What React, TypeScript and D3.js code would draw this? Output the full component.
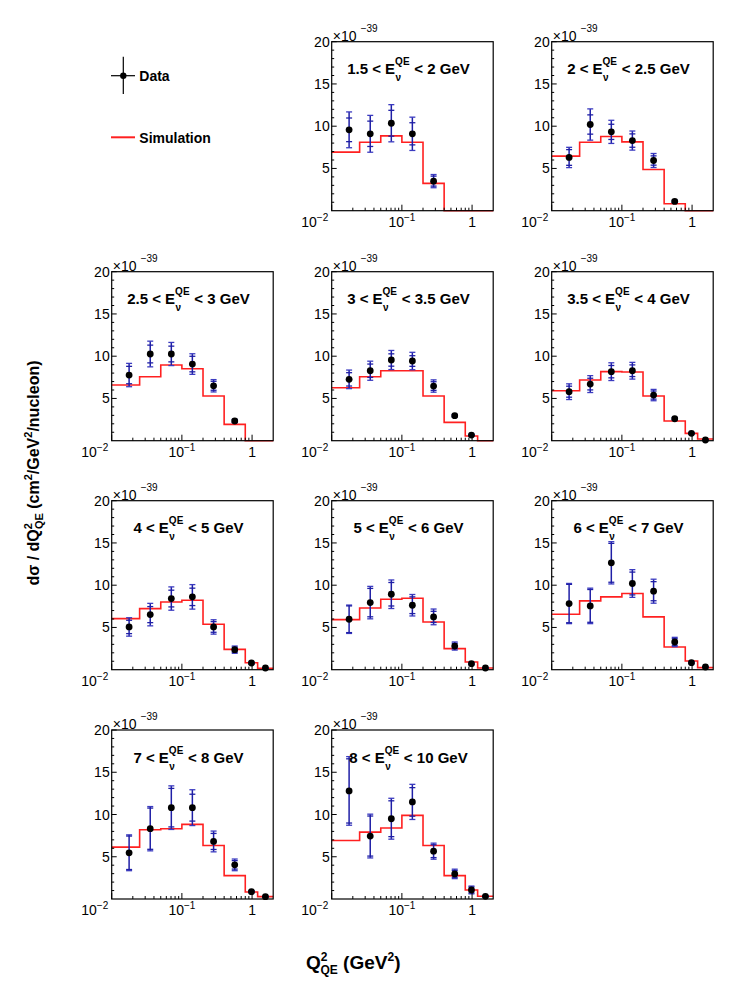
import React from "react";
import * as d3 from "d3";

// ---------- DATA ----------
const binEdges = [0.0, 0.025, 0.05, 0.1, 0.2, 0.4, 0.8, 1.2, 2.0];
const binCenters = [0.0177, 0.0354, 0.0707, 0.141, 0.283, 0.566, 0.98, 1.55];
const eLow = ["1.5", "2", "2.5", "3", "3.5", "4", "5", "6", "7", "8"];
const eHigh = ["2", "2.5", "3", "3.5", "4", "5", "6", "7", "8", "10"];
const yTicks = [5, 10, 15, 20];
const xMajorTicks = [0.01, 0.1, 1];
const xTickExp = ["-2", "-1", ""];

const dataValues: number[][] = [
  [9.57, 9.1, 10.35, 9.1, 3.5],
  [6.3, 10.2, 9.33, 8.3, 5.94, 1.1],
  [7.77, 10.26, 10.26, 9.07, 6.5, 2.33],
  [7.26, 8.28, 9.55, 9.43, 6.47, 2.96, 0.67],
  [5.8, 6.7, 8.17, 8.28, 5.4, 2.6, 0.87, 0.08],
  [5.06, 6.52, 8.42, 8.62, 5.06, 2.37, 0.79, 0.2],
  [5.97, 7.94, 8.93, 7.63, 6.25, 2.8, 0.71, 0.2],
  [7.83, 7.55, 12.65, 10.2, 9.29, 3.28, 0.83, 0.32],
  [5.47, 8.32, 10.81, 10.81, 6.81, 4.04, 0.87, 0.28],
  [12.79, 7.45, 9.5, 11.49, 5.66, 2.97, 1.07, 0.32],
];
const totalErr: number[][] = [
  [2.12, 2.18, 2.2, 1.97, 0.78],
  [1.2, 1.85, 1.37, 1.13, 0.83, 0.15],
  [1.38, 1.52, 1.37, 1.22, 0.73, 0.2],
  [1.1, 1.13, 1.13, 1.03, 0.73, 0.15, 0.1],
  [0.93, 1.0, 1.05, 0.99, 0.67, 0.15, 0.1, 0.05],
  [1.09, 1.33, 1.38, 1.45, 0.85, 0.43, 0.12, 0.06],
  [1.68, 1.92, 1.69, 1.27, 0.93, 0.48, 0.12, 0.06],
  [2.38, 2.1, 2.5, 1.64, 1.42, 0.55, 0.12, 0.06],
  [2.12, 2.62, 2.58, 2.12, 1.23, 0.69, 0.12, 0.06],
  [4.06, 2.59, 2.42, 2.08, 0.95, 0.56, 0.46, 0.08],
];
const statErr: number[][] = [
  [1.4, 1.5, 1.53, 1.31, 0.59],
  [0.93, 1.14, 0.9, 0.79, 0.55, 0.1],
  [1.03, 1.05, 0.93, 0.92, 0.53, 0.12],
  [0.79, 0.79, 0.73, 0.63, 0.51, 0.1, 0.06],
  [0.65, 0.69, 0.73, 0.69, 0.48, 0.1, 0.06, 0.03],
  [0.79, 0.95, 0.99, 1.03, 0.63, 0.3, 0.08, 0.04],
  [1.58, 1.68, 1.39, 0.99, 0.66, 0.32, 0.08, 0.04],
  [2.27, 1.94, 2.3, 1.35, 1.13, 0.39, 0.08, 0.04],
  [1.98, 2.44, 2.28, 1.59, 0.95, 0.5, 0.08, 0.04],
  [3.8, 2.37, 2.12, 1.69, 0.76, 0.4, 0.35, 0.05],
];
const simValues: number[][] = [
  [6.93, 8.1, 8.86, 8.1, 3.23, 0, 0, 0],
  [6.46, 8.1, 8.78, 8.15, 4.88, 0.83, 0, 0],
  [6.59, 7.57, 8.95, 8.52, 5.29, 1.93, 0, 0],
  [6.27, 7.57, 8.28, 8.28, 5.29, 2.17, 0.55, 0],
  [5.92, 7.18, 8.17, 8.13, 5.29, 2.33, 0.87, 0.2],
  [6.05, 7.23, 8.02, 8.22, 5.38, 2.41, 0.83, 0.16],
  [5.93, 7.31, 8.34, 8.46, 5.65, 2.49, 0.91, 0.2],
  [6.56, 8.14, 8.62, 9.01, 6.25, 2.69, 1.03, 0.24],
  [6.14, 8.2, 8.32, 8.83, 6.34, 2.77, 0.83, 0.28],
  [6.93, 7.92, 8.4, 9.9, 6.34, 2.77, 1.07, 0.32],
];

// ---------- LAYOUT ----------
const FONT = "'Liberation Sans', Arial, Helvetica, sans-serif";
const W = 161.5;
const H = 169;
const colLeft = [111.7, 331.7, 551.7];
const rowTop = [41.7, 271.7, 500.7, 730];
const slots: [number, number][] = [
  [0, 1], [0, 2], [1, 0], [1, 1], [1, 2], [2, 0], [2, 1], [2, 2], [3, 0], [3, 1],
];
const XMIN = 0.01;
const XMAX = 2.0;
const BLUE = "#1f1fa6";
const BLUE_OUT = "#3b3bc0";

function Panel({ idx }: { idx: number }) {
  const [r, c] = slots[idx];
  const left = colLeft[c];
  const top = rowTop[r];
  const x = d3.scaleLog().domain([XMIN, XMAX]).range([0, W]);
  const y = d3.scaleLinear().domain([0, 20]).range([H, 0]);

  const pts: [number, number][] = [];
  const sim = simValues[idx];
  sim.forEach((v, i) => {
    const lo = Math.max(binEdges[i], XMIN);
    const hi = Math.min(binEdges[i + 1], XMAX);
    pts.push([lo, v]);
    pts.push([hi, v]);
  });
  const line = d3
    .line<[number, number]>()
    .x((d) => x(d[0]))
    .y((d) => y(d[1]));

  const minorX: number[] = [];
  [0.01, 0.1, 1].forEach((dec) => {
    for (let k = 2; k <= 9; k++) {
      const v = dec * k;
      if (v < XMAX) minorX.push(v);
    }
  });
  const minorY = d3.range(1, 20).filter((v) => v % 5 !== 0);

  const cap = 3;
  const vals = dataValues[idx];
  const cx = W / 2 - 4;

  return (
    <g transform={`translate(${left},${top})`}>
      <rect x={0} y={0} width={W} height={H} fill="white" />
      {/* simulation histogram */}
      <path d={line(pts) || ""} fill="none" stroke="#ff2020" strokeWidth={1.6} />
      {/* data */}
      {vals.map((v, i) => {
        const px = x(binCenters[i]);
        const te = totalErr[idx][i];
        const se = statErr[idx][i];
        return (
          <g key={i}>
            <line x1={px} x2={px} y1={y(v - te)} y2={y(v + te)} stroke={BLUE} strokeWidth={1.5} />
            <line x1={px - cap} x2={px + cap} y1={y(v + te)} y2={y(v + te)} stroke={BLUE_OUT} strokeWidth={1.3} />
            <line x1={px - cap} x2={px + cap} y1={y(v - te)} y2={y(v - te)} stroke={BLUE_OUT} strokeWidth={1.3} />
            <line x1={px - cap} x2={px + cap} y1={y(v + se)} y2={y(v + se)} stroke={BLUE} strokeWidth={1.3} />
            <line x1={px - cap} x2={px + cap} y1={y(v - se)} y2={y(v - se)} stroke={BLUE} strokeWidth={1.3} />
            <circle cx={px} cy={y(v)} r={3.4} fill="black" />
          </g>
        );
      })}
      {/* frame */}
      <rect x={0} y={0} width={W} height={H} fill="none" stroke="black" strokeWidth={1.2} />
      {/* y ticks */}
      {yTicks.map((t) => (
        <g key={"yt" + t}>
          <line x1={0} x2={5} y1={y(t)} y2={y(t)} stroke="black" strokeWidth={1} />
          <text x={-2} y={y(t)} dy="0.36em" textAnchor="end" fontSize={14} fontFamily={FONT}>
            {t}
          </text>
        </g>
      ))}
      {minorY.map((t) => (
        <line key={"ym" + t} x1={0} x2={2.5} y1={y(t)} y2={y(t)} stroke="black" strokeWidth={1} />
      ))}
      {/* x ticks */}
      {xMajorTicks.map((t, i) => (
        <g key={"xt" + t}>
          <line x1={x(t)} x2={x(t)} y1={H} y2={H - 6} stroke="black" strokeWidth={1} />
          <text
            x={x(t) - (i === 0 ? 17 : 0)}
            y={H + 16}
            textAnchor="middle"
            fontSize={14}
            fontFamily={FONT}
          >
            {xTickExp[i] === "" ? (
              "1"
            ) : (
              <>
                10
                <tspan dy={-6} fontSize={10}>
                  {"\u2212" + xTickExp[i].slice(1)}
                </tspan>
              </>
            )}
          </text>
        </g>
      ))}
      {minorX.map((t) => (
        <line key={"xm" + t} x1={x(t)} x2={x(t)} y1={H} y2={H - 3} stroke="black" strokeWidth={1} />
      ))}
      {/* exponent */}
      <text x={1} y={-1} fontSize={14} fontFamily={FONT}>
        ×10
      </text>
      <text x={29} y={-10} fontSize={10} fontFamily={FONT}>
        −39
      </text>
      {/* title */}
      <text x={cx} y={32.6} textAnchor="middle" fontSize={15} fontWeight="bold" fontFamily={FONT}>
        {eLow[idx] + " < E"}
        <tspan dy={-9} fontSize={10}>
          QE
        </tspan>
        <tspan dx={-14} dy={16} fontSize={10}>
          ν
        </tspan>
        <tspan dx={9} dy={-7} fontSize={15}>
          {" < " + eHigh[idx] + " GeV"}
        </tspan>
      </text>
    </g>
  );
}

export default function App() {
  return (
    <svg
      width={747}
      height={989}
      style={{ position: "absolute", left: 0, top: 0, background: "white" }}
      fontFamily={FONT}
    >
      <rect width={747} height={989} fill="white" />
      {/* legend */}
      <g>
        <line x1={123.3} x2={123.3} y1={56.7} y2={94} stroke="black" strokeWidth={1.2} />
        <line x1={111} x2={135} y1={75.7} y2={75.7} stroke="black" strokeWidth={1.2} />
        <circle cx={123.3} cy={75.7} r={3.2} fill="black" />
        <text x={139.3} y={80.7} fontSize={14} fontWeight="bold" fontFamily={FONT}>
          Data
        </text>
        <line x1={111} x2={135} y1={137.3} y2={137.3} stroke="#ff2020" strokeWidth={2} />
        <text x={139.3} y={142.5} fontSize={14} fontWeight="bold" fontFamily={FONT}>
          Simulation
        </text>
      </g>
      {dataValues.map((_, i) => (
        <Panel key={i} idx={i} />
      ))}
      {/* y axis label */}
      <text
        transform="translate(39,473) rotate(-90)"
        textAnchor="middle"
        fontSize={16}
        fontWeight="bold"
        fontFamily={FONT}
      >
        dσ / dQ
        <tspan dy={-7} fontSize={11}>
          2
        </tspan>
        <tspan dx={-6} dy={11} fontSize={11}>
          QE
        </tspan>
        <tspan dy={-4} fontSize={16}>
          {"  (cm"}
        </tspan>
        <tspan dy={-7} fontSize={11}>
          2
        </tspan>
        <tspan dy={7} fontSize={16}>
          /GeV
        </tspan>
        <tspan dy={-7} fontSize={11}>
          2
        </tspan>
        <tspan dy={7} fontSize={16}>
          /nucleon)
        </tspan>
      </text>
      {/* x axis label */}
      <text x={306} y={969} fontSize={19} fontWeight="bold" fontFamily={FONT}>
        Q
        <tspan dy={-8} fontSize={12}>
          2
        </tspan>
        <tspan dx={-7} dy={13} fontSize={12}>
          QE
        </tspan>
        <tspan dy={-5} fontSize={19}>
          {" (GeV"}
        </tspan>
        <tspan dy={-8} fontSize={12}>
          2
        </tspan>
        <tspan dy={8} fontSize={19}>
          )
        </tspan>
      </text>
    </svg>
  );
}
